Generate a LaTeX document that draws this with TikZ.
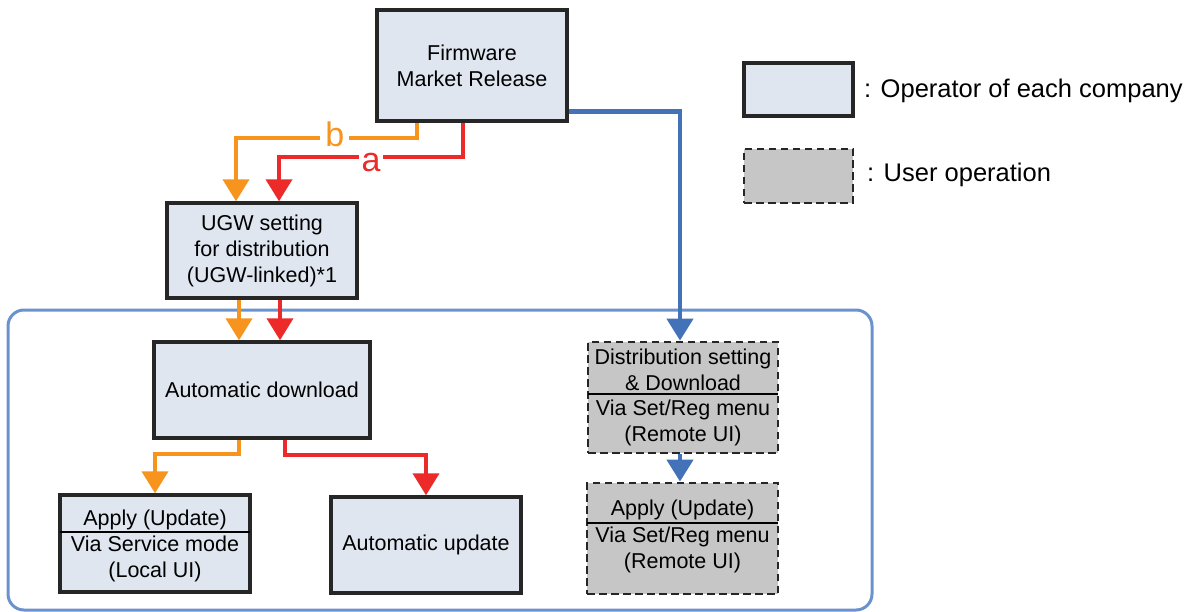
\documentclass[tikz,border=0pt]{standalone}
\usepackage{fontspec}
\setmainfont{Liberation Sans}
\usetikzlibrary{arrows.meta}
\definecolor{boxfill}{HTML}{DFE6F0}
\definecolor{userfill}{HTML}{C6C6C6}
\definecolor{orgc}{HTML}{F7941E}
\definecolor{redc}{HTML}{ED2A2A}
\definecolor{bluc}{HTML}{4472B8}
\definecolor{framec}{HTML}{6A92CE}
\tikzset{
  opbox/.style={draw=black!85, line width=3.4pt, fill=boxfill, inner sep=0pt, align=center},
  userbox/.style={draw=black!85, line width=2.8pt, dash pattern=on 7.5pt off 4.5pt, fill=userfill, inner sep=0pt},
  txt/.style={inner sep=0pt, align=center, font=\fontsize{21.5}{26}\selectfont},
  legtxt/.style={inner sep=0pt, font=\fontsize{25.5}{30}\selectfont},
  conn/.style={line width=4pt, -{Triangle[width=26pt,length=22pt]}},
  org/.style={conn, draw=orgc},
  redl/.style={conn, draw=redc},
  blu/.style={conn, draw=bluc, line width=4.5pt},
  lbl/.style={fill=white, inner sep=5pt, font=\fontsize{34}{34}\selectfont},
  divider/.style={line width=1.5pt, draw=black},
}
\begin{document}
\begin{tikzpicture}[x=1pt,y=-1pt]
\useasboundingbox (0,0) rectangle (1193,612);
% group frame
\node[draw=framec, line width=3pt, rounded corners=16pt, minimum width=864pt, minimum height=300pt, inner sep=0pt] (grp) at (440,460) {};
% boxes
\node[opbox, txt, minimum width=190pt, minimum height=111pt] (fw) at (472,65.5) {Firmware\\Market Release};
\node[opbox, txt, minimum width=190pt, minimum height=95pt] (ugw) at (262,250.5) {UGW setting\\for distribution\\(UGW-linked)*1};
\node[opbox, txt, minimum width=216pt, minimum height=96pt] (ad) at (262,390) {Automatic download};
\node[opbox, minimum width=190pt, minimum height=97pt] (apl) at (155,543.5) {};
\node[opbox, txt, minimum width=190pt, minimum height=96pt] (au) at (426,545) {Automatic update};
\node[userbox, minimum width=190pt, minimum height=111pt] (dist) at (683,397.5) {};
\node[userbox, minimum width=191pt, minimum height=111pt] (apr) at (682.5,538.5) {};
% dividers
\draw[divider] ([xshift=1.5pt]apl.west |- 0,532) -- ([xshift=-1.5pt]apl.east |- 0,532);
\draw[divider] ([xshift=1.5pt]dist.west |- 0,394) -- ([xshift=-1.5pt]dist.east |- 0,394);
\draw[divider] ([xshift=1.5pt]apr.west |- 0,523) -- ([xshift=-1.5pt]apr.east |- 0,523);
% texts in divided boxes
\node[txt] (aplt1) at (155,520) {Apply (Update)};
\node[txt] (aplt2) at (155,559) {Via Service mode\\(Local UI)};
\node[txt] (distt1) at (683,369.5) {Distribution setting\\\& Download};
\node[txt] (distt2) at (683,423) {Via Set/Reg menu\\(Remote UI)};
\node[txt] (aprt1) at (682.5,510) {Apply (Update)};
\node[txt] (aprt2) at (682.5,549.5) {Via Set/Reg menu\\(Remote UI)};
% legend
\node[opbox, minimum width=109pt, minimum height=53pt] (leg1) at (798.5,89.5) {};
\node[userbox, minimum width=109pt, minimum height=54pt] (leg2) at (798.5,176) {};
\node[legtxt, anchor=west] (leg1t) at (864,91) {: Operator of each company};
\node[legtxt, anchor=west] (leg2t) at (867,175) {: User operation};
% connectors
\draw[org] ([xshift=-55pt]fw.south) -- ++(0,15) -| node[lbl, pos=0.227, yshift=3pt, text=orgc] {b} ([xshift=-26pt]ugw.north);
\draw[redl] ([xshift=-9pt]fw.south) -- ++(0,34) -| node[lbl, pos=0.25, yshift=-6pt, text=redc, inner sep=3pt] {a} ([xshift=17pt]ugw.north);
\draw[blu] ([yshift=-46pt]fw.east) -| ([xshift=-3pt]dist.north);
\draw[org] ([xshift=-23pt]ugw.south) -- ([xshift=-23pt]ad.north);
\draw[redl] ([xshift=18pt]ugw.south) -- ([xshift=18pt]ad.north);
\draw[org] ([xshift=-23pt]ad.south) -- ++(0,14) -| (apl.north);
\draw[redl] ([xshift=23pt]ad.south) -- ++(0,15) -| (au.north);
\draw[blu] ([xshift=-3pt]dist.south) -- ([xshift=-2.5pt]apr.north);
\end{tikzpicture}
\end{document}
